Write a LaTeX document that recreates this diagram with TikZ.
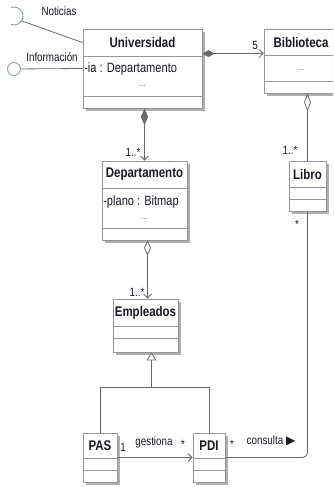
\documentclass[tikz,border=0pt]{standalone}
\usepackage{fontspec}
\setmainfont{Liberation Sans}[FakeStretch=0.82]
\newfontfamily\symfont{DejaVu Sans}
\usetikzlibrary{calc,arrows.meta,shadows}
\definecolor{ink}{RGB}{24,24,38}
\definecolor{edge}{RGB}{150,150,150}
\definecolor{wire}{RGB}{105,105,105}
\definecolor{shade}{RGB}{175,175,175}
\definecolor{iface}{RGB}{135,165,152}

\begin{document}
\begin{tikzpicture}[x=1pt,y=-1pt,
  cls/.style={draw=edge,line width=0.8pt,fill=white,inner sep=0pt,
    drop shadow={shadow xshift=3pt,shadow yshift=-3pt,fill=shade,opacity=1}},
  part/.style={draw=edge,line width=0.8pt},
  ttl/.style={font=\fontsize{14}{16}\selectfont\bfseries,text=ink},
  txt/.style={font=\fontsize{12}{14}\selectfont,text=ink,inner sep=1pt},
  attr/.style={font=\fontsize{13.5}{15}\selectfont,text=ink,inner sep=1pt},
  dots/.style={font=\fontsize{10}{12}\selectfont,text=gray,inner sep=1pt},
  link/.style={draw=wire,line width=0.8pt},
  barb/.tip={Straight Barb[length=4pt,width=8pt]}]
\clip (0,0) rectangle (333,487);
\fill[white] (0,0) rectangle (333,487);
% classes: name/title/centre/size/compartments
\foreach \n/\t/\cx/\cy/\w/\h/\ha/\hb in {
  univ/Universidad/142.5/68.5/119/79/28/68,
  bib/Biblioteca/301/61/74/64/27/53,
  dep/Departamento/144.5/200.5/85/79/28/68,
  libro/Libro/307.5/186/37/50/27/39,
  emp/Empleados/145.5/325.5/65/53/28/40,
  pas/PAS/100/457.5/34/49/26/38,
  pdi/PDI/209/457.5/32/49/26/38}{
  \node[cls,minimum width=\w,minimum height=\h] (\n) at (\cx,\cy) {};
  \draw[part] ($(\n.north west)+(0,\ha)$) -- ($(\n.north east)+(0,\ha)$);
  \draw[part] ($(\n.north west)+(0,\hb)$) -- ($(\n.north east)+(0,\hb)$);
  \node[ttl] at ($(\n.north)+(0,\ha/2)$) {\t};
}
\node[attr,anchor=west] at ($(univ.north west)+(0.5,40)$) {-ia : Departamento};
\node[dots] at ($(univ.north)+(0,57)$) {...};
\node[dots] at ($(bib.north)+(0,41)$) {...};
\node[attr,anchor=west] at ($(dep.north west)+(0.5,41)$) {-plano : Bitmap};
\node[dots] at ($(dep.north)+(0,58)$) {...};

% interfaces
\draw[iface,line width=0.9pt] (14,16) ++(110:9) arc[start angle=110,end angle=-110,radius=9];
\coordinate (noti) at (22,21);
\draw[link] (noti) -- ($(univ.north west)+(0,14)$);
\node[circle,draw=iface,fill=white,line width=0.9pt,minimum size=13,inner sep=0pt] (info) at (14,69) {};
\draw[link] (info) -- (univ.west);
\node[txt] at (59,11) {Noticias};
\node[txt] at (52,57) {Información};

% associations
\coordinate (ub) at ($(univ.north east)+(0,25)$);
\draw[link,{Diamond[length=12pt,width=7pt]}-barb] (ub) -- (ub -| bib.west);
\node[txt] at (255,45) {5};
\draw[link,{Diamond[length=17pt,width=7pt]}-barb] (dep.north |- univ.south) -- (dep.north);
\node[txt] at (133,152) {1..*};
\coordinate (de) at ($(dep.south)+(3,0)$);
\draw[link,{Diamond[open,fill=white,length=15pt,width=7pt]}-barb] (de) -- (de |- emp.north);
\node[txt] at (137,292) {1..*};
\draw[link,{Diamond[open,fill=white,length=18pt,width=7pt]}-] (libro.north |- bib.south) -- (libro.north);
\node[txt] at (290,150) {1..*};
\node[txt] at (297,224) {*};

% generalisation
\coordinate (split) at ($(emp.south)+(6,35)$);
\draw[link,-{Triangle[open,fill=white,length=8pt,width=10pt]}] (split) -- (split |- emp.south);
\draw[link] (pas.north) |- (split) -| (pdi.north);

\draw[link,-barb] (pas.east) -- (pdi.west);
\node[txt] at (123,447) {1};
\node[txt] at (154,442) {gestiona};
\node[txt] at (183,444) {*};
\draw[link,rounded corners=5pt] (pdi.east) -| (libro.south);
\node[txt] at (232,444) {*};
\node[txt] at (271,441) {consulta {\symfont ▶}};
\end{tikzpicture}
\end{document}
